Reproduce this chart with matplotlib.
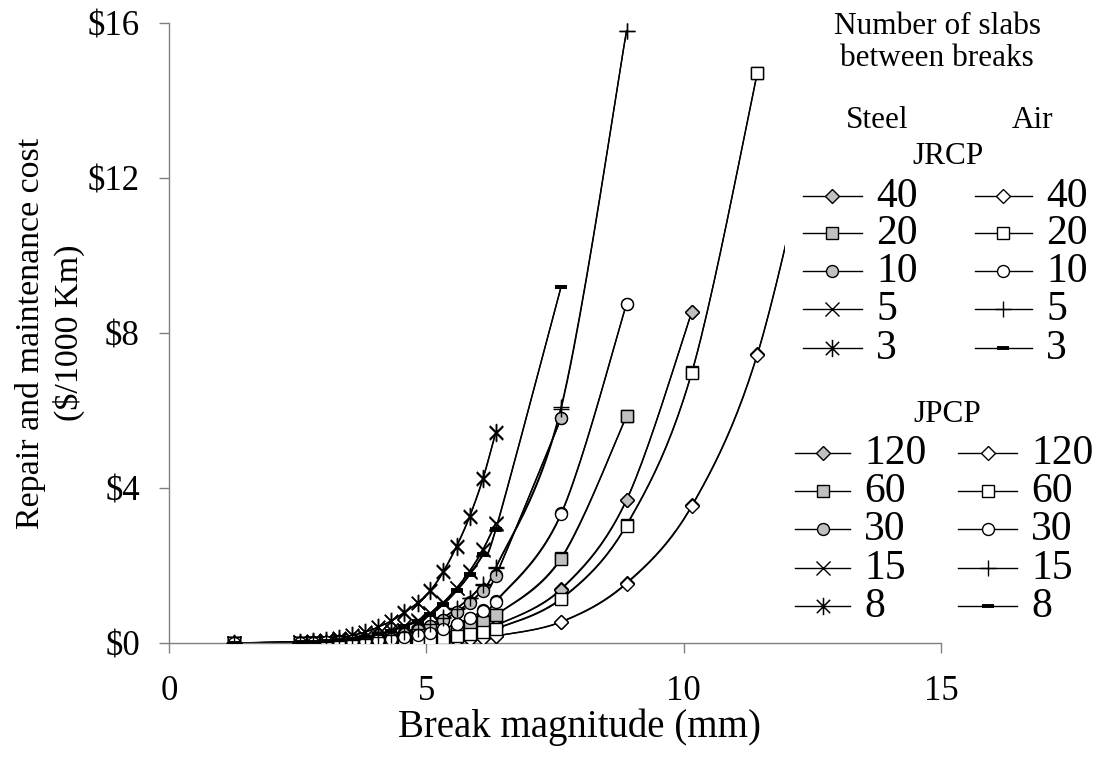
import matplotlib
matplotlib.use("Agg")
import matplotlib.pyplot as plt
import numpy as np
from matplotlib.path import Path

plt.rcParams["font.family"] = ["Liberation Serif", "DejaVu Serif"]

# ---------------------------------------------------------------------------
# Data (cost in $/1000 km vs break magnitude in mm)
# ---------------------------------------------------------------------------
break_mm = [1.27, 2.54, 2.79, 3.05, 3.30, 3.56, 3.81, 4.06, 4.32, 4.57, 4.83,
            5.08, 5.33, 5.59, 5.84, 6.10, 6.35, 7.62, 8.89, 10.16, 11.43, 12.70]

jrcp_counts = ["40", "20", "10", "5", "3"]
jpcp_counts = ["120", "60", "30", "15", "8"]

jrcp_steel_40 = [0, 0, 0, 0.01, 0.01, 0.02, 0.02, 0.03, 0.05, 0.07, 0.09, 0.11, 0.15, 0.21, 0.27, 0.35, 0.45, 1.40, 3.70, 8.55]
jrcp_steel_20 = [0, 0, 0.01, 0.01, 0.02, 0.03, 0.04, 0.05, 0.08, 0.10, 0.14, 0.18, 0.24, 0.33, 0.43, 0.56, 0.72, 2.20, 5.85]
jrcp_steel_10 = [0, 0.01, 0.02, 0.03, 0.04, 0.06, 0.09, 0.13, 0.18, 0.25, 0.33, 0.44, 0.60, 0.81, 1.05, 1.37, 1.75, 5.80]
jrcp_steel_5 = [0, 0.02, 0.03, 0.05, 0.07, 0.11, 0.16, 0.23, 0.33, 0.45, 0.59, 0.78, 1.05, 1.43, 1.86, 2.42, 3.10]
jrcp_steel_3 = [0, 0.03, 0.05, 0.09, 0.13, 0.20, 0.28, 0.41, 0.57, 0.79, 1.04, 1.36, 1.85, 2.51, 3.27, 4.25, 5.45]

jrcp_air_40 = [0, 0, 0, 0, 0, 0.01, 0.01, 0.01, 0.02, 0.03, 0.03, 0.05, 0.06, 0.08, 0.11, 0.14, 0.18, 0.55, 1.55, 3.55, 7.45, 14.5]
jrcp_air_20 = [0, 0, 0, 0.01, 0.01, 0.01, 0.02, 0.03, 0.04, 0.05, 0.07, 0.09, 0.13, 0.17, 0.22, 0.29, 0.37, 1.15, 3.05, 7.00, 14.7]
jrcp_air_10 = [0, 0.01, 0.01, 0.02, 0.03, 0.04, 0.06, 0.08, 0.11, 0.16, 0.21, 0.27, 0.37, 0.50, 0.65, 0.84, 1.08, 3.35, 8.75]
jrcp_air_5 = [0, 0.01, 0.02, 0.03, 0.05, 0.07, 0.10, 0.15, 0.20, 0.28, 0.37, 0.49, 0.66, 0.90, 1.17, 1.52, 1.95, 6.10, 15.8]
jrcp_air_3 = [0, 0.02, 0.03, 0.05, 0.07, 0.11, 0.15, 0.22, 0.31, 0.43, 0.56, 0.74, 1.00, 1.36, 1.77, 2.30, 2.95, 9.20]

jpcp_steel_120 = [0, 0, 0, 0.01, 0.01, 0.02, 0.02, 0.03, 0.05, 0.07, 0.09, 0.11, 0.15, 0.21, 0.27, 0.35, 0.45, 1.38, 3.68, 8.55]
jpcp_steel_60 = [0, 0, 0.01, 0.01, 0.02, 0.03, 0.04, 0.05, 0.08, 0.10, 0.14, 0.18, 0.24, 0.33, 0.43, 0.55, 0.71, 2.17, 5.85]
jpcp_steel_30 = [0, 0.01, 0.02, 0.03, 0.04, 0.06, 0.09, 0.13, 0.18, 0.25, 0.33, 0.44, 0.59, 0.80, 1.04, 1.35, 1.73, 5.80]
jpcp_steel_15 = [0, 0.02, 0.03, 0.05, 0.07, 0.11, 0.16, 0.23, 0.33, 0.45, 0.58, 0.77, 1.04, 1.41, 1.84, 2.40, 3.08]
jpcp_steel_8 = [0, 0.03, 0.05, 0.09, 0.13, 0.20, 0.28, 0.41, 0.57, 0.78, 1.03, 1.35, 1.83, 2.49, 3.25, 4.23, 5.43]

jpcp_air_120 = [0, 0, 0, 0, 0, 0.01, 0.01, 0.01, 0.02, 0.03, 0.03, 0.05, 0.06, 0.08, 0.11, 0.14, 0.18, 0.54, 1.53, 3.53, 7.43, 14.5]
jpcp_air_60 = [0, 0, 0, 0.01, 0.01, 0.01, 0.02, 0.03, 0.04, 0.05, 0.07, 0.09, 0.13, 0.17, 0.22, 0.28, 0.36, 1.13, 3.03, 6.98, 14.7]
jpcp_air_30 = [0, 0.01, 0.01, 0.02, 0.03, 0.04, 0.06, 0.08, 0.11, 0.16, 0.21, 0.27, 0.36, 0.49, 0.64, 0.83, 1.06, 3.32, 8.75]
jpcp_air_15 = [0, 0.01, 0.02, 0.03, 0.05, 0.07, 0.10, 0.15, 0.20, 0.28, 0.37, 0.48, 0.65, 0.89, 1.15, 1.50, 1.93, 6.05, 15.8]
jpcp_air_8 = [0, 0.02, 0.03, 0.05, 0.07, 0.11, 0.15, 0.22, 0.31, 0.42, 0.55, 0.73, 0.99, 1.34, 1.75, 2.27, 2.92, 9.20]

jrcp_steel = [jrcp_steel_40, jrcp_steel_20, jrcp_steel_10, jrcp_steel_5, jrcp_steel_3]
jrcp_air = [jrcp_air_40, jrcp_air_20, jrcp_air_10, jrcp_air_5, jrcp_air_3]
jpcp_steel = [jpcp_steel_120, jpcp_steel_60, jpcp_steel_30, jpcp_steel_15, jpcp_steel_8]
jpcp_air = [jpcp_air_120, jpcp_air_60, jpcp_air_30, jpcp_air_15, jpcp_air_8]

# ---------------------------------------------------------------------------
# Styles
# ---------------------------------------------------------------------------
ASTERISK = Path([(-1, -1), (1, 1), (-1, 1), (1, -1), (0, -1.3), (0, 1.3)],
                [Path.MOVETO, Path.LINETO] * 3)
STEEL_FILL = "#c0c0c0"

steel_markers = [
    dict(marker="D", ms=7.6, mfc=STEEL_FILL, mec="black", mew=1.0),
    dict(marker="s", ms=9.2, mfc=STEEL_FILL, mec="black", mew=1.0),
    dict(marker="o", ms=8.6, mfc=STEEL_FILL, mec="black", mew=1.0),
    dict(marker="x", ms=9.5, mec="black", mew=1.0),
    dict(marker=ASTERISK, ms=12.5, mec="black", mew=1.1),
]
air_markers = [
    dict(marker="D", ms=7.6, mfc="white", mec="black", mew=1.0),
    dict(marker="s", ms=9.2, mfc="white", mec="black", mew=1.0),
    dict(marker="o", ms=8.6, mfc="white", mec="black", mew=1.0),
    dict(marker="+", ms=12, mec="black", mew=1.0),
    dict(marker="_", ms=9, mec="black", mew=2.8),
]


def smooth(xs, ys, n=24):
    """Excel-like smoothed line through the points (Catmull-Rom Bezier)."""
    pts = np.column_stack([xs, ys]).astype(float)
    out = [pts[0]]
    t = np.linspace(0, 1, n)[1:, None]
    for i in range(len(pts) - 1):
        p0 = pts[i - 1] if i > 0 else pts[i]
        p1, p2 = pts[i], pts[i + 1]
        p3 = pts[i + 2] if i + 2 < len(pts) else pts[i + 1]
        c1 = p1 + (p2 - p0) / 6
        c2 = p2 - (p3 - p1) / 6
        seg = (1 - t) ** 3 * p1 + 3 * (1 - t) ** 2 * t * c1 + 3 * (1 - t) * t ** 2 * c2 + t ** 3 * p2
        out.extend(seg)
    return np.array(out)


W, H = 1112, 767
fig = plt.figure(figsize=(W / 100, H / 100), dpi=100)

x0, x1, y0, y1 = 169, 941, 643, 23
ax = fig.add_axes([x0 / W, 1 - y0 / H, (x1 - x0) / W, (y0 - y1) / H])

for group in (jrcp_steel, jrcp_air, jpcp_steel, jpcp_air):
    styles = steel_markers if group in (jrcp_steel, jpcp_steel) else air_markers
    for vals, st in zip(group, styles):
        xs = break_mm[:len(vals)]
        path = smooth(xs, vals)
        ax.plot(path[:, 0], path[:, 1], color="black", lw=1.0, zorder=2)
        ax.plot(xs, vals, linestyle="none", zorder=3, **st)

ax.set_xlim(0, 15)
ax.set_ylim(0, 16)
ax.set_xticks([0, 5, 10, 15])
ax.set_yticks([0, 4, 8, 12, 16])
ax.set_yticklabels(["$0", "$4", "$8", "$12", "$16"])
for s in ("top", "right"):
    ax.spines[s].set_visible(False)
for s in ("left", "bottom"):
    ax.spines[s].set_color("#808080")
    ax.spines[s].set_linewidth(1.0)
ax.tick_params(axis="both", direction="out", length=7, width=1.0, color="#808080",
               labelsize=25)
ax.tick_params(axis="y", pad=14)
ax.tick_params(axis="x", pad=16)

fig.text(50 / W, 1 - 333 / H, "Repair and maintenance cost\n($/1000 Km)", rotation=90,
         ha="center", va="center", fontsize=24.5, multialignment="center", linespacing=1.25)

fig.text(398 / W, 1 - 727 / H, "Break magnitude (mm)", ha="left", va="center", fontsize=28)

# ---------------------------------------------------------------------------
# Legend panel (drawn in reference pixel coordinates)
# ---------------------------------------------------------------------------
lx0, lx1, ly1 = 785, W, 625
lg = fig.add_axes([lx0 / W, 1 - ly1 / H, (lx1 - lx0) / W, ly1 / H], zorder=5)
lg.set_xlim(lx0, lx1)
lg.set_ylim(ly1, 0)
lg.set_xticks([])
lg.set_yticks([])
for s in lg.spines.values():
    s.set_visible(False)
lg.patch.set_facecolor("white")

head = dict(ha="center", va="center", fontsize=22.5)
lg.text(937, 27, "Number of slabs", **head)
lg.text(937, 58, "between breaks", **head)
lg.text(877, 120, "Steel", **head)
lg.text(1033, 120, "Air", **head)
lg.text(948, 157, "JRCP", **head)
lg.text(947, 414, "JPCP", **head)


def legend_rows(rows_y, counts, left, right):
    for y, cnt, st_s, st_a in zip(rows_y, counts, steel_markers, air_markers):
        for (a, b, m, tx), st in ((left, st_s), (right, st_a)):
            lg.plot([a, b], [y, y], color="black", lw=1.0)
            lg.plot([m], [y], linestyle="none", **st)
            lg.text(tx, y + 1, cnt, ha="left", va="center", fontsize=30)


legend_rows([196, 233, 271, 309, 348], jrcp_counts, (803, 862, 832, 876), (975, 1032, 1003, 1046))
legend_rows([453, 491, 529, 568, 606], jpcp_counts, (795, 850, 823, 864), (958, 1017, 988, 1031))

fig.savefig("out.png", dpi=100)
